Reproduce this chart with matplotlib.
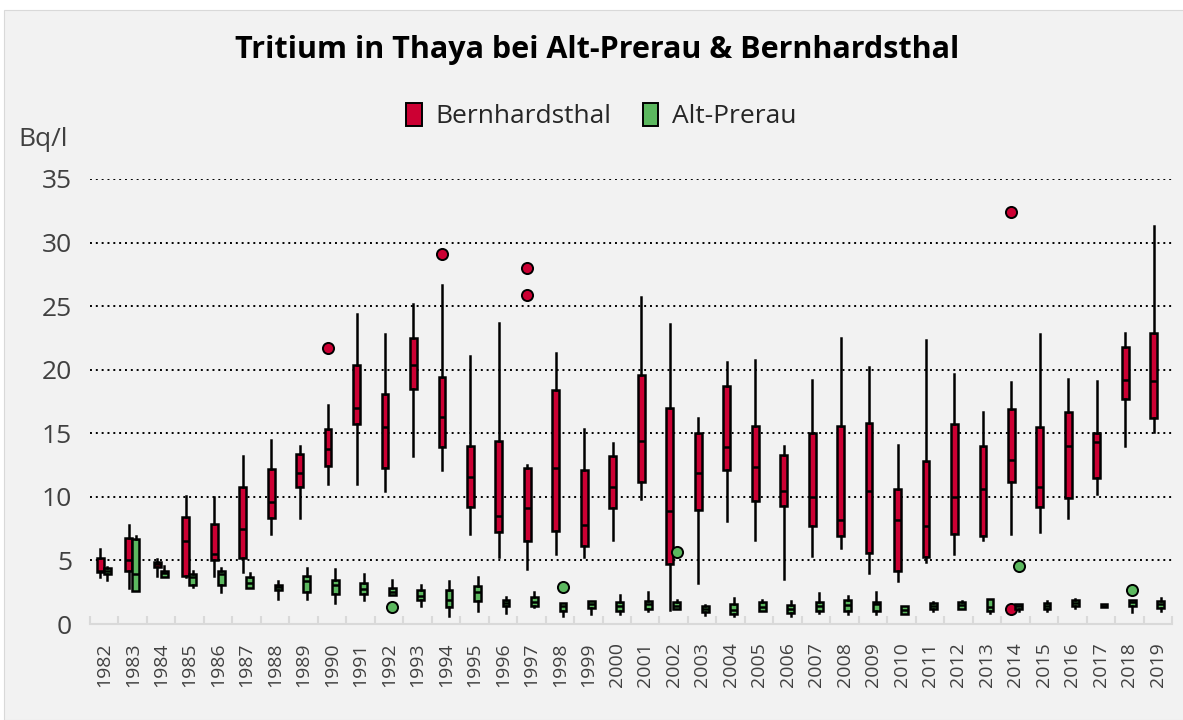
import matplotlib
matplotlib.use("Agg")
import matplotlib.pyplot as plt
from matplotlib.patches import Patch, Rectangle

plt.rcParams['font.family'] = ['Open Sans', 'DejaVu Sans']

years = list(range(1982, 2020))

# Bernhardsthal (red)
bern_lo = [3.7, 2.8, 3.8, 3.7, 3.8, 4.1, 7.1, 8.3, 11.0, 11.0, 10.5, 13.2, 12.1, 7.1, 5.3, 4.3, 5.5, 5.3, 6.6, 9.8,
           1.1, 3.25, 8.1, 6.6, 3.55, 5.35, 5.95, 4.05, 3.4, 4.9, 5.5, 6.6, 7.1, 7.2, 8.3, 10.2, 14.0, 15.1]
bern_q1 = [4.1, 4.2, 4.5, 3.8, 5.0, 5.2, 8.3, 10.8, 12.4, 15.7, 12.3, 18.5, 13.9, 9.2, 7.2, 6.5, 7.3, 6.1, 9.1, 11.2,
           4.7, 8.95, 12.1, 9.65, 9.3, 7.7, 6.95, 5.6, 4.15, 5.25, 7.05, 6.9, 11.15, 9.2, 9.9, 11.5, 17.7, 16.2]
bern_med = [4.2, 5.0, 4.7, 6.5, 5.5, 7.5, 9.6, 11.9, 13.8, 17.0, 15.5, 20.4, 16.3, 11.6, 8.5, 9.1, 12.3, 7.8, 10.8, 14.4,
            8.9, 11.9, 13.9, 12.35, 10.5, 10.0, 8.2, 10.5, 8.2, 7.7, 10.0, 10.6, 12.9, 10.8, 14.0, 14.3, 19.2, 19.1]
bern_q3 = [5.2, 6.8, 4.9, 8.4, 7.9, 10.8, 12.2, 13.4, 15.3, 20.4, 18.1, 22.5, 19.4, 14.0, 14.4, 12.3, 18.4, 12.1, 13.2, 19.6,
           17.0, 15.0, 18.7, 15.55, 13.3, 15.0, 15.6, 15.8, 10.6, 12.8, 15.7, 14.0, 16.9, 15.5, 16.7, 15.0, 21.8, 22.9]
bern_hi = [5.9, 7.8, 5.1, 10.1, 10.0, 13.2, 14.5, 14.0, 17.2, 24.4, 22.8, 25.2, 26.7, 21.1, 23.7, 12.5, 21.3, 15.3, 14.2, 25.7,
           23.6, 16.2, 20.6, 20.8, 14.0, 19.2, 22.5, 20.2, 14.1, 22.3, 19.7, 16.7, 19.0, 22.8, 19.3, 19.1, 22.9, 31.3]
bern_out = {1990: [21.7], 1994: [29.1], 1997: [28.0, 25.9], 2014: [32.4, 1.2]}

# Alt-Prerau (green)
alt_lo = [3.5, 2.6, 3.7, 2.9, 2.5, 2.8, 2.0, 2.0, 1.66, 1.9, 2.25, 1.4, 0.65, 1.0, 0.9, 1.35, 0.65, 0.75, 0.75, 1.05,
          1.15, 0.7, 0.6, 1.0, 0.6, 0.85, 0.75, 0.75, 0.75, 1.05, 1.2, 0.9, 1.0, 1.0, 1.25, 1.3, 0.95, 1.0]
alt_q1 = [3.9, 2.6, 3.7, 3.1, 3.1, 2.8, 2.7, 2.5, 2.34, 2.34, 2.25, 1.9, 1.35, 1.8, 1.45, 1.45, 1.0, 1.25, 1.05, 1.2,
          1.15, 0.95, 0.8, 1.0, 0.85, 1.05, 1.05, 1.05, 0.75, 1.15, 1.2, 1.05, 1.15, 1.2, 1.45, 1.3, 1.4, 1.25]
alt_med = [4.2, 3.9, 4.0, 3.7, 3.9, 3.2, 2.9, 3.4, 3.1, 2.75, 2.55, 2.2, 1.85, 2.5, 1.65, 1.7, 1.4, 1.6, 1.45, 1.55,
           1.45, 1.2, 1.1, 1.35, 1.2, 1.4, 1.5, 1.6, 1.1, 1.45, 1.5, 1.35, 1.4, 1.4, 1.65, 1.45, 1.7, 1.55]
alt_q3 = [4.4, 6.7, 4.2, 3.9, 4.2, 3.7, 3.1, 3.8, 3.5, 3.2, 2.85, 2.65, 2.7, 2.95, 1.85, 2.15, 1.65, 1.8, 1.7, 1.8,
          1.7, 1.4, 1.55, 1.7, 1.5, 1.75, 1.9, 1.7, 1.4, 1.65, 1.7, 1.95, 1.6, 1.65, 1.85, 1.6, 1.9, 1.8]
alt_hi = [4.5, 6.9, 4.6, 4.2, 4.4, 4.0, 3.4, 4.4, 4.3, 3.9, 3.5, 3.1, 3.35, 3.7, 2.1, 2.5, 1.65, 1.8, 2.25, 2.5,
          1.9, 1.5, 2.05, 1.85, 1.8, 2.45, 2.2, 2.5, 1.4, 1.75, 1.8, 1.95, 1.6, 1.8, 1.95, 1.6, 1.9, 2.05]
alt_out = {1992: [1.3], 1998: [2.9], 2002: [5.65], 2014: [4.6], 2018: [2.65]}

red = '#cc0033'
green = '#5cb85f'
bg = '#f2f2f2'


def make_stats(lo, q1, med, q3, hi, out):
    stats = []
    for i, y in enumerate(years):
        stats.append(dict(whislo=lo[i], q1=q1[i], med=med[i], q3=q3[i], whishi=hi[i],
                          fliers=out.get(y, [])))
    return stats


fig = plt.figure(figsize=(11.83, 7.2), dpi=100)
fig.patches.append(Rectangle((4 / 1183, 0), 1, 1 - 10 / 720, transform=fig.transFigure,
                             facecolor=bg, edgecolor='#d9d9d9', lw=0.8, zorder=-10))
ax = fig.add_axes([90 / 1183, 96 / 720, 1082 / 1183, 445 / 720])
ax.set_facecolor(bg)

pos = list(range(len(years)))
for stats, off, col in [(make_stats(bern_lo, bern_q1, bern_med, bern_q3, bern_hi, bern_out), -0.14, red),
                        (make_stats(alt_lo, alt_q1, alt_med, alt_q3, alt_hi, alt_out), 0.11, green)]:
    ax.bxp(stats, positions=[p + off for p in pos], widths=0.24, patch_artist=True,
           showcaps=False,
           boxprops=dict(facecolor=col, edgecolor='black', linewidth=1.8),
           medianprops=dict(color='black', linewidth=1.8),
           whiskerprops=dict(color='black', linewidth=1.8),
           flierprops=dict(marker='o', markerfacecolor=col, markeredgecolor='black',
                           markersize=8, markeredgewidth=1.4))

ax.set_ylim(0, 35)
ax.set_xlim(-0.5, len(years) - 0.5)
ax.set_yticks(range(0, 36, 5))
ax.yaxis.grid(True, linestyle=(0, (1, 2)), color='black', linewidth=1.4)
ax.set_axisbelow(True)
ax.tick_params(axis='y', length=0, labelsize=19, labelcolor='#404040', pad=13)

ax.set_xticks(pos)
ax.set_xticklabels([str(y) for y in years], rotation=90, fontsize=14, color='#404040')
ax.set_xticks([p - 0.5 for p in pos] + [len(years) - 0.5], minor=True)
ax.tick_params(axis='x', which='major', length=0, pad=13)
ax.tick_params(axis='x', which='minor', direction='in', length=6, color='#d9d9d9', width=1.5)

for s in ['top', 'right', 'left']:
    ax.spines[s].set_visible(False)
ax.spines['bottom'].set_color('#d9d9d9')
ax.spines['bottom'].set_linewidth(1.5)

fig.text(0.505, 1 - 50 / 720, 'Tritium in Thaya bei Alt-Prerau & Bernhardsthal',
         ha='center', va='center', fontsize=22, fontweight='bold', color='black')
fig.text(18 / 1183, 1 - 140 / 720, 'Bq/l', ha='left', va='center', fontsize=19, color='#404040')

handles = [Patch(facecolor=red, edgecolor='black', label='Bernhardsthal', linewidth=1.4),
           Patch(facecolor=green, edgecolor='black', label='Alt-Prerau', linewidth=1.4)]
fig.legend(handles=handles, loc='center', bbox_to_anchor=(0.508, 1 - 116 / 720), ncol=2,
           frameon=False, fontsize=19, handlelength=0.6, handleheight=1.0, handletextpad=0.5,
           columnspacing=1.2, labelcolor='#262626')

fig.savefig('out.png', dpi=100, facecolor='white')
